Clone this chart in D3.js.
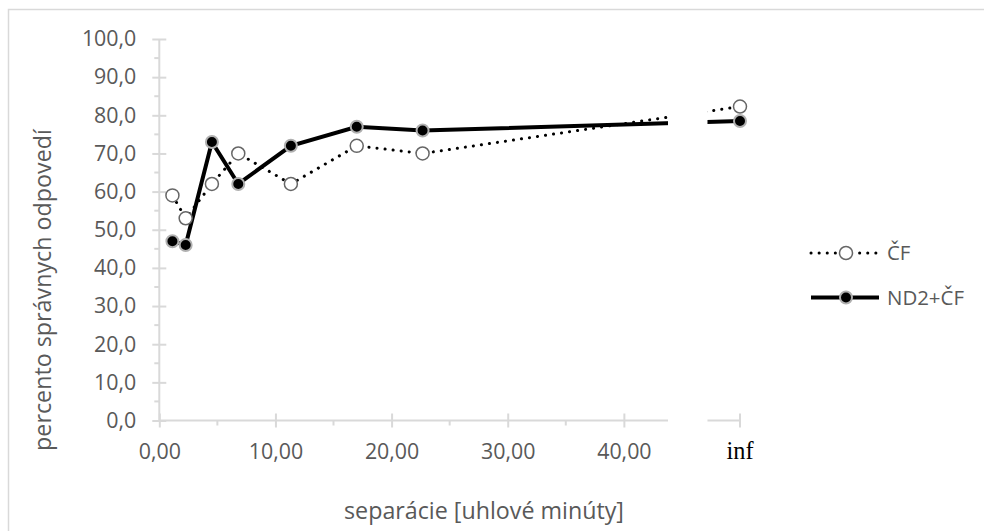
<!DOCTYPE html>
<html>
<head>
<meta charset="utf-8">
<script src="https://cdn.jsdelivr.net/npm/d3@7"></script>
<style>
  body { margin: 0; background: #fff; }
  text { font-family: "Open Sans", sans-serif; fill: #595959; }
  .axis path, .axis line { stroke: #d9d9d9; stroke-width: 2; }
  .axis .domain { display: none; }
</style>
</head>
<body>
<svg width="984" height="531"></svg>
<script>
// separations in arc minutes, last one is "inf"
const separations = [1.13, 2.27, 4.53, 6.8, 11.33, 17, 22.67, "inf"]
const cfValues = [59, 53, 62, 70, 62, 72, 70, 82.3]
const ndValues = [47, 46, 73, 62, 72, 77, 76, 78.5]
const xTicks = [0, 10, 20, 30, 40]
const xMinor = [5, 15, 25, 35]
const yTicks = [0, 10, 20, 30, 40, 50, 60, 70, 80, 90, 100]
const yMinor = [5, 15, 25, 35, 45, 55, 65, 75, 85, 95]
const seriesNames = ["ČF", "ND2+ČF"]

const svg = d3.select("svg")
const infPos = 50, breakStart = 43.8, breakEnd = 47.2

const x = d3.scaleLinear().domain([0, infPos]).range([159.3, 740]),
      y = d3.scaleLinear().domain([0, 100]).range([420.5, 39])

const xv = s => s === "inf" ? infPos : s
const fmtY = d => d3.format(".1f")(d).replace(".", ",")
const fmtX = d => d3.format(".2f")(d).replace(".", ",")

// scale a text's font so its width hits the one measured on the picture
function fit(sel, base, target) {
  sel.style("font-size", base + "px")
  const w = sel.node().getComputedTextLength()
  return base * target / w
}

// chart border
svg.append("rect")
  .attr("x", 8.5).attr("y", 9.5)
  .attr("width", 990).attr("height", 540)
  .attr("fill", "none").attr("stroke", "#d9d9d9").attr("stroke-width", 1.5)

// y axis
const gy = svg.append("g").attr("class", "axis")
  .attr("transform", "translate(" + x(0) + ",0)")
gy.call(d3.axisLeft(y).tickValues(yTicks).tickFormat(fmtY).tickSize(7).tickPadding(16))
gy.selectAll(".tick line").attr("x1", 7)
const yLabels = gy.selectAll(".tick text").attr("fill", "#595959")
const tickSize = fit(yLabels.filter(d => d === 0), 18, 30)
yLabels.style("font-size", tickSize + "px")
gy.append("line").attr("y1", y(0)).attr("y2", y(100))
gy.selectAll(".minor").data(yMinor).enter().append("line")
  .attr("x1", -5).attr("x2", 0)
  .attr("y1", d => y(d)).attr("y2", d => y(d))

// x axis
const gx = svg.append("g").attr("class", "axis")
  .attr("transform", "translate(0," + y(0) + ")")
gx.call(d3.axisBottom(x).tickValues(xTicks).tickFormat(fmtX).tickSize(7).tickPadding(0))
gx.selectAll(".tick line").attr("y1", -7)
gx.selectAll(".tick text")
  .style("font-size", tickSize + "px").attr("fill", "#595959")
  .attr("y", 38).attr("dy", null)
gx.append("line").attr("x1", x(0)).attr("x2", x(breakStart))
gx.append("line").attr("x1", x(breakEnd)).attr("x2", x(infPos))
gx.selectAll(".minor").data(xMinor).enter().append("line")
  .attr("x1", d => x(d)).attr("x2", d => x(d))
  .attr("y1", 0).attr("y2", 5)
gx.append("line").attr("x1", x(infPos)).attr("x2", x(infPos)).attr("y1", -7).attr("y2", 7)
const inf = gx.append("text")
  .attr("x", x(infPos)).attr("y", 38.5)
  .attr("text-anchor", "middle")
  .style("font-family", "'Liberation Serif', serif")
  .style("fill", "#000")
  .text("inf")
inf.style("font-size", fit(inf, 20, 27) + "px")

// axis titles
const yTitle = svg.append("text")
  .attr("transform", "translate(51,290) rotate(-90)")
  .attr("text-anchor", "middle")
  .text("percento správnych odpovedí")
yTitle.style("font-size", fit(yTitle, 20, 322) + "px")

const xTitle = svg.append("text")
  .attr("x", 484).attr("y", 519)
  .attr("text-anchor", "middle")
  .text("separácie [uhlové minúty]")
xTitle.style("font-size", fit(xTitle, 20, 280) + "px")

// clip the lines at the axis break
const clip = svg.append("clipPath").attr("id", "brk")
clip.append("rect").attr("x", 0).attr("y", 0).attr("width", x(breakStart)).attr("height", 531)
clip.append("rect").attr("x", x(breakEnd)).attr("y", 0).attr("width", 984 - x(breakEnd)).attr("height", 531)

const line = d3.line()
  .x(d => x(xv(d.sep)))
  .y(d => y(d.value))

const cf = separations.map((s, i) => ({sep: s, value: cfValues[i]}))
const nd = separations.map((s, i) => ({sep: s, value: ndValues[i]}))

svg.append("path")
  .attr("d", line(cf))
  .attr("clip-path", "url(#brk)")
  .attr("fill", "none").attr("stroke", "#000")
  .attr("stroke-width", 3).attr("stroke-linecap", "round")
  .attr("stroke-dasharray", "0.1 8")

svg.append("path")
  .attr("d", line(nd))
  .attr("clip-path", "url(#brk)")
  .attr("fill", "none").attr("stroke", "#000")
  .attr("stroke-width", 4)

svg.selectAll(".cf").data(cf).enter().append("circle")
  .attr("cx", d => x(xv(d.sep))).attr("cy", d => y(d.value))
  .attr("r", 6.5)
  .attr("fill", "#fff").attr("stroke", "#666").attr("stroke-width", 1.5)

svg.selectAll(".nd").data(nd).enter().append("circle")
  .attr("cx", d => x(xv(d.sep))).attr("cy", d => y(d.value))
  .attr("r", 6)
  .attr("fill", "#000").attr("stroke", "#b0b0b0").attr("stroke-width", 2)

// legend
const legend = svg.append("g")
const items = legend.selectAll("g").data(seriesNames).enter().append("g")
  .attr("transform", (d, i) => "translate(0," + (i === 0 ? 253 : 297.5) + ")")

items.append("line")
  .attr("x1", 811).attr("x2", 879)
  .attr("stroke", "#000")
  .attr("stroke-width", (d, i) => i === 0 ? 3 : 4)
  .attr("stroke-linecap", (d, i) => i === 0 ? "round" : "butt")
  .attr("stroke-dasharray", (d, i) => i === 0 ? "0.1 8" : null)

items.append("circle")
  .attr("cx", 846).attr("r", (d, i) => i === 0 ? 6.5 : 6)
  .attr("fill", (d, i) => i === 0 ? "#fff" : "#000")
  .attr("stroke", (d, i) => i === 0 ? "#666" : "#b0b0b0")
  .attr("stroke-width", (d, i) => i === 0 ? 1.5 : 2)

const legText = items.append("text")
  .attr("x", 887).attr("y", 7)
  .text(d => d)
legText.style("font-size", fit(legText.filter((d, i) => i === 1), 18, 77) + "px")
</script>
</body>
</html>
